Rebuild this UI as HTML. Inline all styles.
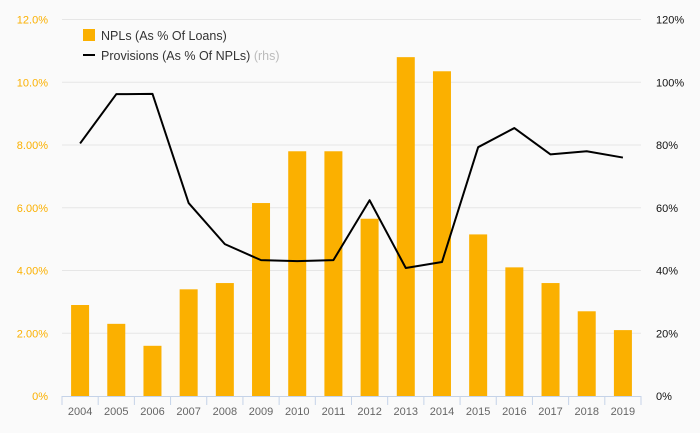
<!DOCTYPE html>
<html><head><meta charset="utf-8"><style>
body{margin:0;background:#fafafa;}
svg{display:block;font-family:"Liberation Sans",sans-serif;}
</style></head><body>
<svg id="c" width="700" height="433">
<rect width="700" height="433" fill="#fafafa"/>
<g id="grid"></g><g id="bars"></g><g id="line"></g><g id="axes"></g>
<g>
<rect x="83" y="29" width="12" height="12" fill="#fbb000"/>
<text x="101" y="40" font-size="12.5" fill="#333">NPLs (As % Of Loans)</text>
<rect x="83" y="54" width="12" height="2" fill="#000"/>
<text x="101" y="60" font-size="12.5" fill="#333">Provisions (As % Of NPLs) <tspan fill="#bbb">(rhs)</tspan></text>
</g>
</svg>
<script>
const years=['2004','2005','2006','2007','2008','2009','2010','2011','2012','2013','2014','2015','2016','2017','2018','2019'];
const npl=[2.9,2.3,1.6,3.4,3.6,6.15,7.8,7.8,5.65,10.8,10.35,5.15,4.1,3.6,2.7,2.1];
const provisions=[80.5,96.2,96.3,61.5,48.4,43.3,43,43.3,62.4,40.8,42.7,79.3,85.4,77,78,76];
const leftTicks=['0%','2.00%','4.00%','6.00%','8.00%','10.0%','12.0%'];
const rightTicks=['0%','20%','40%','60%','80%','100%','120%'];
const NS='http://www.w3.org/2000/svg';
const x0=62,x1=641,y0=396,y1=19.5;
const step=(x1-x0)/years.length;
const xc=i=>x0+step*(i+0.5);
const yl=v=>y0-(v/12)*(y0-y1);
const yr=v=>y0-(v/120)*(y0-y1);
function mk(tag,attrs,parent,txt){const e=document.createElementNS(NS,tag);for(const k in attrs)e.setAttribute(k,attrs[k]);if(txt!==undefined)e.textContent=txt;document.getElementById(parent).appendChild(e);return e;}
leftTicks.forEach((t,i)=>{
  const y=yl(i*2);
  if(i>0){const g=mk('line',{x1:x0,x2:x1,y1:y,y2:y,stroke:'#e6e6e6','stroke-width':1},'grid');
  
  }
  const a=mk('text',{x:48,y:y+4,'text-anchor':'end','font-size':11,fill:'#fbb000'},'axes',t);
  
  
  const b=mk('text',{x:656,y:y+4,'font-size':11,fill:'#111'},'axes',rightTicks[i]);
  
  
});
npl.forEach((v,i)=>{
  const r=mk('rect',{x:xc(i)-9,y:yl(v),width:18,height:y0-yl(v),fill:'#fbb000'},'bars');
  
  
});
const p=mk('polyline',{points:provisions.map((v,i)=>xc(i)+','+yr(v)).join(' '),fill:'none',stroke:'#000','stroke-width':2,'stroke-linejoin':'round'},'line');


const ax=mk('line',{x1:x0,x2:x1,y1:y0+0.5,y2:y0+0.5,stroke:'#c5d3e8','stroke-width':1},'axes');


for(let i=0;i<=years.length;i++){
  const t=mk('line',{x1:x0+step*i,x2:x0+step*i,y1:y0,y2:y0+9,stroke:'#c5d3e8','stroke-width':1},'axes');
  
  
}
years.forEach((yv,i)=>{
  const t=mk('text',{x:xc(i),y:415,'text-anchor':'middle','font-size':11,fill:'#666'},'axes',yv);
  
  
});
</script>
</body></html>
